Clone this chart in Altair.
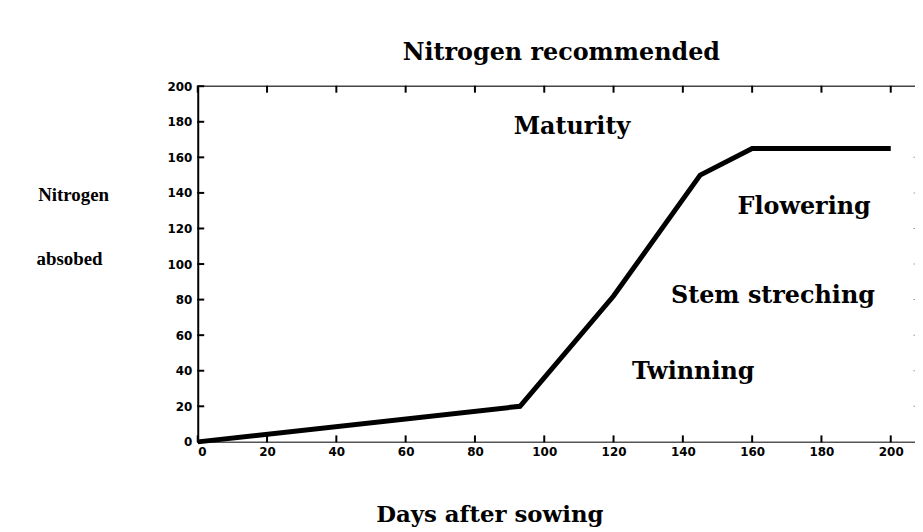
import altair as alt
import pandas as pd

# ---- data ----
days = [0, 93, 120, 145, 160, 200]
nitrogen = [0, 20, 82, 150, 165, 165]

x_ticks = [0, 20, 40, 60, 80, 100, 120, 140, 160, 180, 200]
y_ticks = [0, 20, 40, 60, 80, 100, 120, 140, 160, 180, 200]
y_ticks_right = [20, 40, 60, 80, 100, 120, 140, 160]

stage_labels = ["Maturity", "Flowering", "Stem streching", "Twinning"]
stage_day = [108, 175, 166, 143]
stage_n = [177, 132, 82, 39]

title_text = "Nitrogen recommended"
x_title = "Days after sowing"
y_title_lines = ["Nitrogen", "absobed"]

W, H = 722, 358
SERIF = "DejaVu Serif"
TICKFONT = "DejaVu Sans"

xs = alt.Scale(domain=[0, 207], nice=False, zero=False)
ys = alt.Scale(domain=[0, 200], nice=False, zero=False)

line_df = pd.DataFrame({"day": days, "n": nitrogen})
xt_df = pd.DataFrame({"tx": x_ticks})
yt_df = pd.DataFrame({"ty": y_ticks})
yr_df = pd.DataFrame({"tr": y_ticks_right})
stage_df = pd.DataFrame({"label": stage_labels, "day": stage_day, "n": stage_n})

xaxis = alt.Axis(values=x_ticks, ticks=False, grid=False, domain=True, domainColor="#555555",
                 domainWidth=1.5, labelOverlap=False, labelFont=TICKFONT, labelFontWeight="bold",
                 labelFontSize=12, labelColor="black", labelPadding=5, title=None)
yaxis = alt.Axis(values=y_ticks, ticks=False, grid=False, domain=True, domainColor="black",
                 domainWidth=2, labelOverlap=False, labelFont=TICKFONT, labelFontWeight="bold",
                 labelFontSize=12, labelColor="black", labelPadding=6, title=None)

line = alt.Chart(line_df).mark_line(color="black", strokeWidth=5, strokeJoin="miter", strokeCap="butt").encode(
    x=alt.X("day:Q", scale=xs, axis=xaxis),
    y=alt.Y("n:Q", scale=ys, axis=yaxis),
)

top_line = alt.Chart(xt_df.head(1)).mark_rule(color="#444444", strokeWidth=1.5).encode(
    x=alt.value(0), x2=alt.value(W + 4), y=alt.value(0)
)

# inward tick marks drawn as tick marks positioned through the shared scales
bottom_ticks = alt.Chart(xt_df).mark_tick(color="black", thickness=2, size=7, opacity=1).encode(
    x=alt.X("tx:Q", scale=xs, axis=None), y=alt.value(H - 3)
)
top_ticks = alt.Chart(xt_df).mark_tick(color="black", thickness=2, size=7, opacity=1).encode(
    x=alt.X("tx:Q", scale=xs, axis=None), y=alt.value(3)
)
left_ticks = alt.Chart(yt_df).mark_tick(color="black", thickness=2, size=7, opacity=1).encode(
    y=alt.Y("ty:Q", scale=ys, axis=None), x=alt.value(3)
)
right_ticks = alt.Chart(yr_df).mark_tick(color="#999999", thickness=1, size=3, opacity=1).encode(
    y=alt.Y("tr:Q", scale=ys, axis=None), x=alt.value(W)
)

stages = alt.Chart(stage_df).mark_text(font=SERIF, fontWeight="bold", fontSize=24, color="black",
                                       align="center", baseline="middle").encode(
    x=alt.X("day:Q", scale=xs, axis=None),
    y=alt.Y("n:Q", scale=ys, axis=None),
    text="label:N",
)

title = alt.Chart(pd.DataFrame({"label": [title_text]})).mark_text(
    font=SERIF, fontWeight="bold", fontSize=24, color="black", align="center", baseline="middle"
).encode(x=alt.value(366), y=alt.value(-33), text="label:N")

xtitle = alt.Chart(pd.DataFrame({"label": [x_title]})).mark_text(
    font=SERIF, fontWeight="bold", fontSize=23, color="black", align="center", baseline="middle"
).encode(x=alt.value(294), y=alt.value(432), text="label:N")

ytitle1 = alt.Chart(pd.DataFrame({"label": [y_title_lines[0]]})).mark_text(
    font="Liberation Serif", fontWeight="bold", fontSize=19, color="black", align="center", baseline="middle"
).encode(x=alt.value(-125), y=alt.value(110), text="label:N")
ytitle2 = alt.Chart(pd.DataFrame({"label": [y_title_lines[1]]})).mark_text(
    font="Liberation Serif", fontWeight="bold", fontSize=19, color="black", align="center", baseline="middle"
).encode(x=alt.value(-129), y=alt.value(174), text="label:N")

chart = alt.layer(
    line, top_line, stages, title, xtitle, ytitle1, ytitle2,
    bottom_ticks, top_ticks, left_ticks, right_ticks,
).resolve_axis(
    x="independent", y="independent"
).properties(
    width=W, height=H, autosize="none",
    padding={"left": 191, "top": 77, "right": 0, "bottom": 89},
    background="white",
).configure_view(stroke=None)

chart.save("out.html", embed_options={"renderer": "svg", "actions": False})
